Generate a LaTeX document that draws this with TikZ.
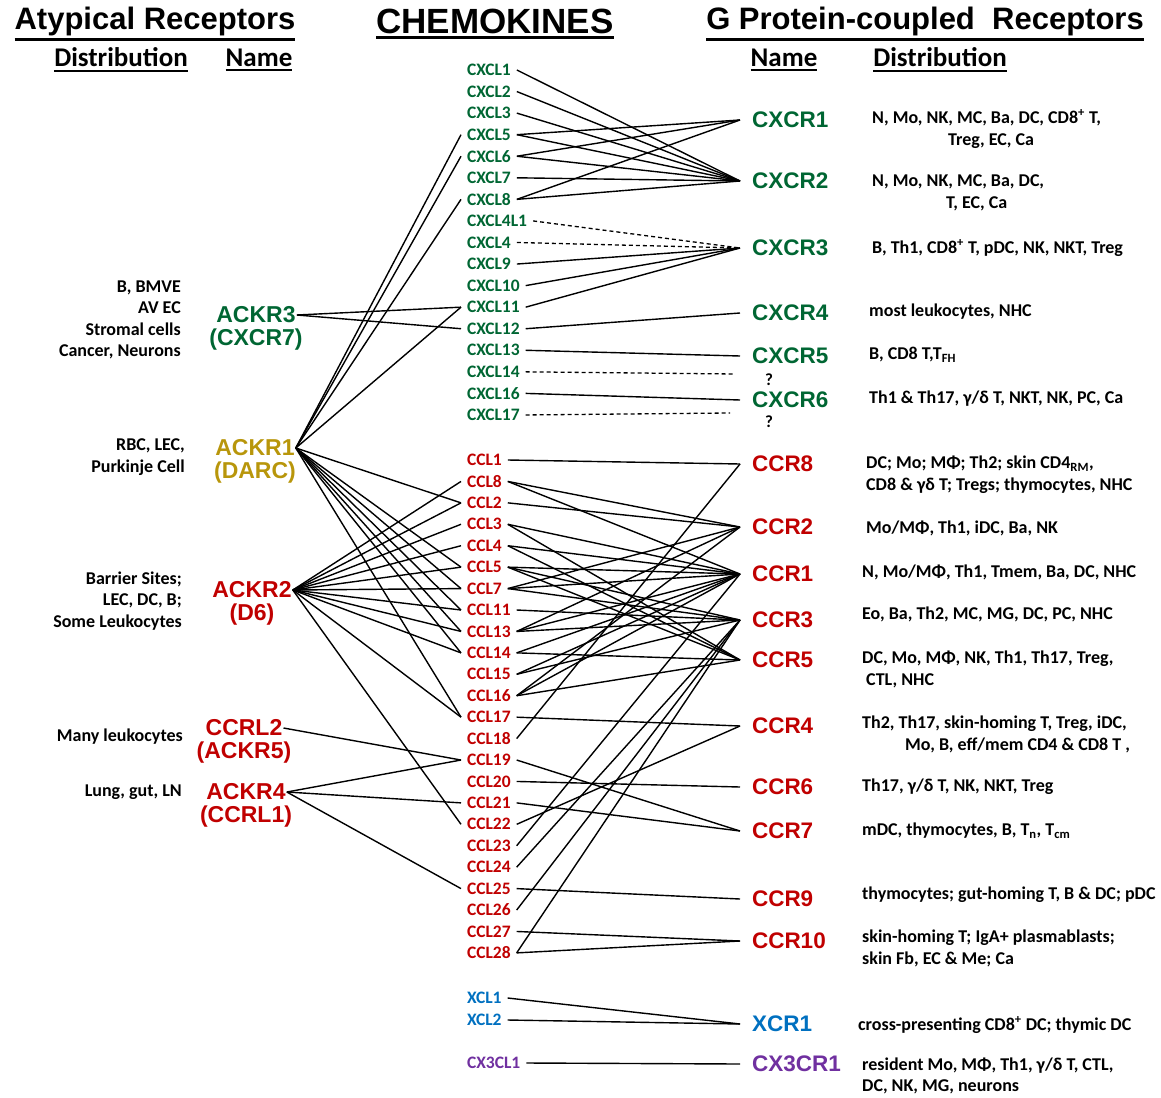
\documentclass[tikz,border=0pt]{standalone}
\usepackage{fontspec}
\setmainfont{Carlito}
\newfontfamily\arialfont{Liberation Sans}
\newcommand{\hdrline}[1]{\setbox0\hbox{#1}\vtop{\copy0\kern2.5pt\hrule height 2.4pt width \wd0}}
\usetikzlibrary{positioning}
\definecolor{ckgreen}{RGB}{0,102,51}
\definecolor{ckred}{RGB}{192,0,0}
\definecolor{ckgold}{RGB}{184,150,11}
\definecolor{ckblue}{RGB}{0,112,192}
\definecolor{ckpurple}{RGB}{112,48,160}
\begin{document}
\begin{tikzpicture}[
        x=1pt, y=-1pt,
        title/.style={inner sep=0pt, font=\arialfont\bfseries\fontsize{31}{34}\selectfont},
        subtitle/.style={inner sep=0pt, font=\bfseries\fontsize{27}{30}\selectfont},
        chemo/.style={anchor=west, inner xsep=3pt, outer xsep=3pt, inner ysep=1pt, font=\bfseries\fontsize{17.5}{19}\selectfont},
        recep/.style={anchor=west, inner xsep=6pt, outer xsep=6pt, inner ysep=1pt, font=\arialfont\bfseries\fontsize{22.5}{24}\selectfont},
        atyp/.style={inner xsep=1pt, inner ysep=0pt, font=\arialfont\bfseries\fontsize{23}{25}\selectfont},
        distr/.style={anchor=west, align=left, inner sep=0pt, font=\bfseries\fontsize{18}{22}\selectfont},
        ldistr/.style={anchor=east, align=right, inner sep=0pt, font=\bfseries\fontsize{18}{21.5}\selectfont},
        bind/.style={line width=1.4pt},
        maybe/.style={line width=1.3pt, dash pattern=on 4pt off 3pt},
    ]
    \useasboundingbox (0,0) rectangle (1161,1097);

    % headings
    \node[title] (tAtyp) at (155,24) {\hdrline{Atypical Receptors}};
    \node[title] (tChemo) at (495,24) {\hdrline{\fontsize{35}{37}\selectfont CHEMOKINES}};
    \node[title] (tGpcr) at (925,24) {\hdrline{G Protein-coupled\ \ Receptors}};
    \node[subtitle] (sDistL) at (121,60) {\hdrline{Distribution}};
    \node[subtitle] (sNameL) at (259,60) {\hdrline{Name}};
    \node[subtitle] (sNameR) at (784,60) {\hdrline{Name}};
    \node[subtitle] (sDistR) at (940,60) {\hdrline{Distribution}};

    % chemokines
    \foreach \n [count=\i] in {CXCL1,CXCL2,CXCL3,CXCL5,CXCL6,CXCL7,CXCL8,CXCL4L1,CXCL4,CXCL9,CXCL10,CXCL11,CXCL12,CXCL13,CXCL14,CXCL16,CXCL17}
        \node[chemo, ckgreen] (\n) at (461,{70+21.56*(\i-1)}) {\n};
    \foreach \n [count=\i] in {CCL1,CCL8,CCL2,CCL3,CCL4,CCL5,CCL7,CCL11,CCL13,CCL14,CCL15,CCL16,CCL17,CCL18,CCL19,CCL20,CCL21,CCL22,CCL23,CCL24,CCL25,CCL26,CCL27,CCL28}
        \node[chemo, ckred] (\n) at (461,{460+21.43*(\i-1)}) {\n};
    \node[chemo, ckblue] (XCL1) at (461,998) {XCL1};
    \node[chemo, ckblue] (XCL2) at (461,1020) {XCL2};
    \node[chemo, ckpurple] (CX3CL1) at (461,1063) {CX3CL1};

    % G protein-coupled receptors
    \foreach \n/\y in {CXCR1/120,CXCR2/181,CXCR3/248,CXCR4/313,CXCR5/356,CXCR6/400}
        \node[recep, ckgreen] (\n) at (740,\y) {\n};
    \foreach \n/\y in {CCR8/464,CCR2/527,CCR1/574,CCR3/620,CCR5/660,CCR4/726,CCR6/787,CCR7/831,CCR9/899,CCR10/941}
        \node[recep, ckred] (\n) at (740,\y) {\n};
    \node[recep, ckblue] (XCR1) at (740,1024) {XCR1};
    \node[recep, ckpurple] (CX3CR1) at (740,1064) {CX3CR1};
    \node[font=\bfseries\fontsize{17}{18}\selectfont] (q14) at (769,380) {?};
    \node[font=\bfseries\fontsize{17}{18}\selectfont] (q17) at (769,422) {?};
    \coordinate (end14) at (735,374);
    \coordinate (end17) at (730,413);

    % atypical receptors
    \node[atyp, ckgreen] (ACKR3) at (256,315) {ACKR3};
    \node[atyp, ckgreen, below=5pt of ACKR3] (ACKR3b) {(CXCR7)};
    \node[atyp, ckgold] (ACKR1) at (255,448) {ACKR1};
    \node[atyp, ckgold, below=5pt of ACKR1] (ACKR1b) {(DARC)};
    \node[atyp, ckred] (ACKR2) at (252,590) {ACKR2};
    \node[atyp, ckred, below=5pt of ACKR2] (ACKR2b) {(D6)};
    \node[atyp, ckred] (CCRL2) at (244,728) {CCRL2};
    \node[atyp, ckred, below=5pt of CCRL2] (CCRL2b) {(ACKR5)};
    \node[atyp, ckred] (ACKR4) at (246,792) {ACKR4};
    \node[atyp, ckred, below=5pt of ACKR4] (ACKR4b) {(CCRL1)};

    % distributions, left
    \node[ldistr] (dACKR3) at (181,320) {B, BMVE\\AV EC\\Stromal cells\\Cancer, Neurons};
    \node[ldistr] (dACKR1) at (185,457) {RBC, LEC,\\Purkinje Cell};
    \node[ldistr] (dACKR2) at (182,601) {Barrier Sites;\\LEC, DC, B;\\Some Leukocytes};
    \node[ldistr] (dCCRL2) at (183,737) {Many leukocytes};
    \node[ldistr] (dACKR4) at (182,792) {Lung, gut, LN};

    % distributions, right
    \node[distr] (dCXCR1) at (872,129) {N, Mo, NK, MC, Ba, DC, CD8\textsuperscript{+} T,\\\hspace*{76pt}Treg, EC, Ca};
    \node[distr] (dCXCR2) at (872,193) {N, Mo, NK, MC, Ba, DC,\\\hspace*{74pt}T, EC, Ca};
    \node[distr] (dCXCR3) at (872,248) {B, Th1, CD8\textsuperscript{+} T, pDC, NK, NKT, Treg};
    \node[distr] (dCXCR4) at (869,312) {most leukocytes, NHC};
    \node[distr] (dCXCR5) at (869,355) {B, CD8 T,T\textsubscript{FH}};
    \node[distr] (dCXCR6) at (869,399) {Th1 \& Th17, γ/δ T, NKT, NK, PC, Ca};
    \node[distr] (dCCR8) at (866,475) {DC; Mo; MΦ; Th2; skin CD4\textsubscript{RM},\\CD8 \& γδ T; Tregs; thymocytes, NHC};
    \node[distr] (dCCR2) at (866,528) {Mo/MΦ, Th1, iDC, Ba, NK};
    \node[distr] (dCCR1) at (862,572) {N, Mo/MΦ, Th1, Tmem, Ba, DC, NHC};
    \node[distr] (dCCR3) at (862,614) {Eo, Ba, Th2, MC, MG, DC, PC, NHC};
    \node[distr] (dCCR5) at (862,669) {DC, Mo, MΦ, NK, Th1, Th17, Treg,\\\hspace*{4pt}CTL, NHC};
    \node[distr] (dCCR4) at (862,734) {Th2, Th17, skin-homing T, Treg, iDC,\\\hspace*{43pt}Mo, B, eff/mem CD4 \& CD8 T ,};
    \node[distr] (dCCR6) at (862,787) {Th17, γ/δ T, NK, NKT, Treg};
    \node[distr] (dCCR7) at (862,831) {mDC, thymocytes, B, T\textsubscript{n}, T\textsubscript{cm}};
    \node[distr] (dCCR9) at (862,895) {thymocytes; gut-homing T, B \& DC; pDC};
    \node[distr] (dCCR10) at (862,948) {skin-homing T; IgA+ plasmablasts;\\skin Fb, EC \& Me; Ca};
    \node[distr] (dXCR1) at (858,1025) {cross-presenting CD8\textsuperscript{+} DC; thymic DC};
    \node[distr, font=\bfseries\fontsize{18}{21}\selectfont] (dCX3CR1) at (862,1076) {resident Mo, MΦ, Th1, γ/δ T, CTL,\\DC, NK, MG, neurons};

    % chemokine - receptor pairs
    \foreach \a/\b in {CXCL1/CXCR2,CXCL2/CXCR2,CXCL3/CXCR2,CXCL5/CXCR1,CXCL5/CXCR2,CXCL6/CXCR1,CXCL6/CXCR2,
            CXCL7/CXCR2,CXCL8/CXCR1,CXCL8/CXCR2,CXCL9/CXCR3,CXCL10/CXCR3,CXCL11/CXCR3,CXCL12/CXCR4,
            CXCL13/CXCR5,CXCL16/CXCR6}
        \draw[bind] (\a.east) -- (\b.west);
    \foreach \a/\b in {CXCL4L1/CXCR3,CXCL4/CXCR3}
        \draw[maybe] (\a.east) -- (\b.west);
    \draw[maybe] (CXCL14.east) -- (end14);
    \draw[maybe] (CXCL17.east) -- (end17);

    \foreach \a/\b in {CCL1/CCR8,CCL18/CCR8,CCL8/CCR2,CCL8/CCR1,CCL2/CCR2,CCL3/CCR1,CCL3/CCR5,CCL4/CCR1,CCL4/CCR5,
            CCL5/CCR1,CCL5/CCR3,CCL5/CCR5,CCL7/CCR2,CCL7/CCR1,CCL7/CCR3,CCL11/CCR3,CCL13/CCR2,CCL13/CCR1,
            CCL13/CCR3,CCL14/CCR1,CCL14/CCR5,CCL15/CCR1,CCL15/CCR3,CCL16/CCR1,CCL16/CCR2,CCL16/CCR5,
            CCL17/CCR4,CCL22/CCR4,CCL19/CCR7,CCL21/CCR7,CCL20/CCR6,CCL23/CCR1,CCL24/CCR3,CCL26/CCR3,
            CCL28/CCR3,CCL25/CCR9,CCL27/CCR10,CCL28/CCR10,XCL1/XCR1,XCL2/XCR1,CX3CL1/CX3CR1}
        \draw[bind] (\a.east) -- (\b.west);

    % atypical receptor - chemokine pairs
    \foreach \b in {CXCL11,CXCL12}
        \draw[bind] (ACKR3.east) -- (\b.west);
    \foreach \b in {CXCL5,CXCL6,CXCL8,CXCL11,CCL2,CCL5,CCL7,CCL11,CCL13,CCL14,CCL17}
        \draw[bind] (ACKR1.east) -- (\b.west);
    \foreach \b in {CCL8,CCL2,CCL3,CCL4,CCL5,CCL7,CCL11,CCL13,CCL14,CCL17,CCL22}
        \draw[bind] (ACKR2.east) -- (\b.west);
    \draw[bind] (CCRL2.east) -- (CCL19.west);
    \foreach \b in {CCL19,CCL21,CCL25}
        \draw[bind] (ACKR4.east) -- (\b.west);
\end{tikzpicture}
\end{document}
